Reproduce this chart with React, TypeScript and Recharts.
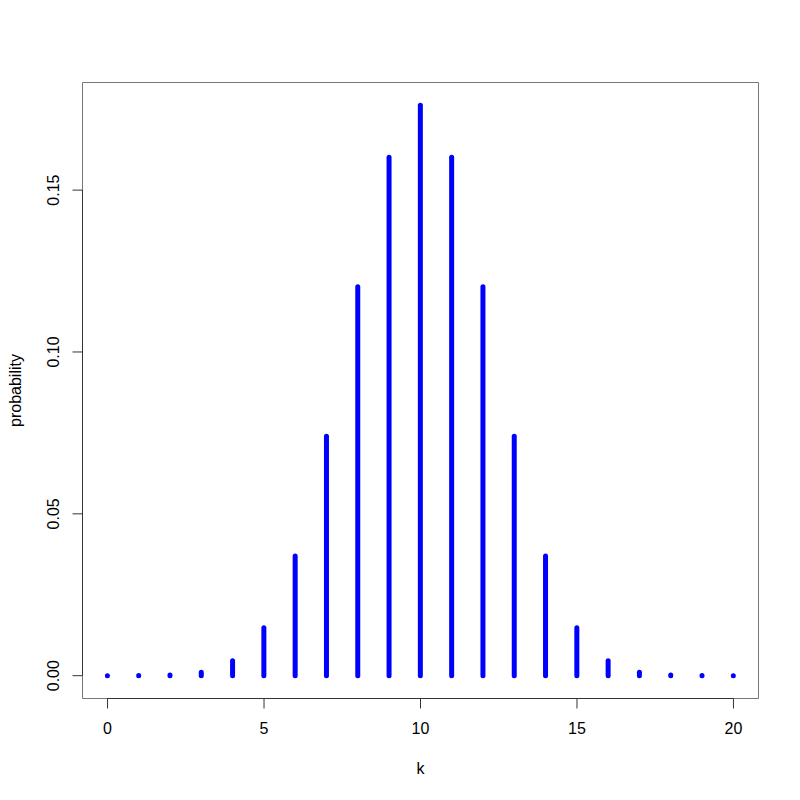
import React from "react";
import {
  ComposedChart,
  Bar,
  XAxis,
  YAxis,
  ReferenceArea,
  ReferenceLine,
} from "recharts";

// Binomial(20, 0.5) probabilities
const ks = [0, 1, 2, 3, 4, 5, 6, 7, 8, 9, 10, 11, 12, 13, 14, 15, 16, 17, 18, 19, 20];
const probs = [
  0.00000095, 0.0000191, 0.000181, 0.001087, 0.004621, 0.014786, 0.036964,
  0.073929, 0.120134, 0.160179, 0.176197, 0.160179, 0.120134, 0.073929,
  0.036964, 0.014786, 0.004621, 0.001087, 0.000181, 0.0000191, 0.00000095,
];
const xTicks = [0, 5, 10, 15, 20];
const yTicks = [0, 0.05, 0.1, 0.15];

const data = ks.map((k, i) => ({ k, p: probs[i] }));

// R style 4% padding on both axes
const X_MIN = -0.8;
const X_MAX = 20.8;
const P_MAX = Math.max(...probs);
const Y_MIN = -P_MAX * 0.04;
const Y_MAX = P_MAX * 1.04;

const FONT = "'Liberation Sans', Arial, Helvetica, sans-serif";
const AXIS = "#333";
const BOX = "#777";

const Spike = (props: any) => {
  const { x, y, width, height } = props;
  if (x == null || y == null) return null;
  const cx = x + width / 2;
  return (
    <line
      x1={cx}
      x2={cx}
      y1={y}
      y2={y + height}
      stroke="#0000ff"
      strokeWidth={5}
      strokeLinecap="round"
    />
  );
};

const XTick = (props: any) => {
  const { x, y, payload } = props;
  return (
    <text x={x} y={y + 25} textAnchor="middle" fontSize={16} fontFamily={FONT} fill="#000">
      {payload.value}
    </text>
  );
};

const YTick = (props: any) => {
  const { x, y, payload } = props;
  const tx = x - 13;
  return (
    <text
      x={tx}
      y={y}
      transform={`rotate(-90, ${tx}, ${y})`}
      textAnchor="middle"
      fontSize={16}
      fontFamily={FONT}
      fill="#000"
    >
      {Number(payload.value).toFixed(2)}
    </text>
  );
};

const XTitle = (props: any) => {
  const vb = props.viewBox || {};
  return (
    <text
      x={vb.x + vb.width / 2}
      y={vb.y + 75}
      textAnchor="middle"
      fontSize={16}
      fontFamily={FONT}
      fill="#000"
    >
      k
    </text>
  );
};

const YTitle = (props: any) => {
  const vb = props.viewBox || {};
  const tx = vb.x + 21;
  const ty = vb.y + vb.height / 2;
  return (
    <text
      x={tx}
      y={ty}
      transform={`rotate(-90, ${tx}, ${ty})`}
      textAnchor="middle"
      fontSize={16}
      fontFamily={FONT}
      fill="#000"
    >
      probability
    </text>
  );
};

export default function App() {
  return (
    <div style={{ position: "absolute", left: 0, top: 0, width: 800, height: 800, background: "#fff" }}>
      <ComposedChart
        width={800}
        height={800}
        data={data}
        margin={{ top: 82.5, right: 41.5, bottom: 0, left: 0 }}
      >
        <XAxis
          dataKey="k"
          type="number"
          domain={[X_MIN, X_MAX]}
          allowDataOverflow
          ticks={xTicks}
          height={101.5}
          axisLine={false}
          tickLine={{ stroke: AXIS }}
          tickSize={10}
          tickMargin={0}
          tick={<XTick />}
          label={<XTitle />}
        />
        <YAxis
          type="number"
          domain={[Y_MIN, Y_MAX]}
          allowDataOverflow
          ticks={yTicks}
          width={82.5}
          axisLine={false}
          tickLine={{ stroke: AXIS }}
          tickSize={10}
          tickMargin={0}
          tick={<YTick />}
          label={<YTitle />}
        />
        <ReferenceArea
          x1={X_MIN}
          x2={X_MAX}
          y1={Y_MIN}
          y2={Y_MAX}
          fill="none"
          fillOpacity={0}
          stroke={BOX}
          strokeWidth={1}
          ifOverflow="visible"
        />
        <ReferenceLine
          segment={[
            { x: xTicks[0], y: Y_MIN },
            { x: xTicks[xTicks.length - 1], y: Y_MIN },
          ]}
          stroke={AXIS}
          strokeWidth={1}
          ifOverflow="visible"
        />
        <ReferenceLine
          segment={[
            { x: X_MIN, y: yTicks[0] },
            { x: X_MIN, y: yTicks[yTicks.length - 1] },
          ]}
          stroke={AXIS}
          strokeWidth={1}
          ifOverflow="visible"
        />
        <Bar dataKey="p" barSize={5} shape={<Spike />} isAnimationActive={false} />
      </ComposedChart>
    </div>
  );
}
